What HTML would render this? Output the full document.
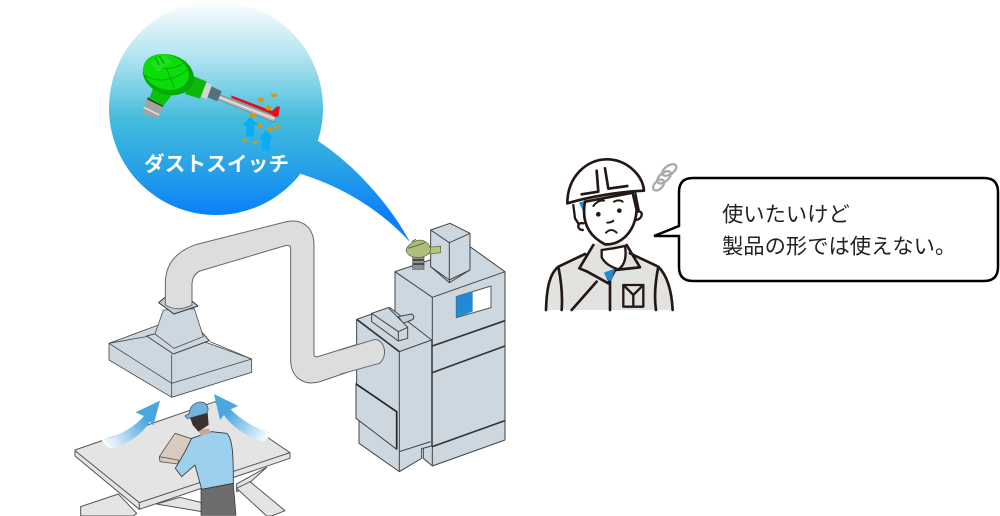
<!DOCTYPE html>
<html lang="ja"><head><meta charset="utf-8"><style>
html,body{margin:0;padding:0;background:#fff;width:1000px;height:516px;overflow:hidden}
svg{display:block}
text{font-family:"Liberation Sans","Noto Sans CJK JP",sans-serif}
</style></head><body>
<svg width="1000" height="516" viewBox="0 0 1000 516" xmlns="http://www.w3.org/2000/svg">
<defs>
<linearGradient id="b" gradientUnits="userSpaceOnUse" x1="0" y1="0" x2="0" y2="215">
<stop offset="0" stop-color="#fff"/><stop offset=".3" stop-color="#a5e0ee"/><stop offset=".55" stop-color="#45bcdc"/><stop offset=".8" stop-color="#259fe8"/><stop offset="1" stop-color="#0a80fc"/></linearGradient>
<linearGradient id="a1" gradientUnits="userSpaceOnUse" x1="100" y1="190" x2="240" y2="90"><stop offset="0" stop-color="#fff"/><stop offset=".85" stop-color="#4aa6de"/></linearGradient>
<linearGradient id="a2" gradientUnits="userSpaceOnUse" x1="600" y1="170" x2="460" y2="70"><stop offset="0" stop-color="#fff"/><stop offset=".85" stop-color="#4aa6de"/></linearGradient>
</defs>

<!-- bubble -->
<circle cx="216" cy="108" r="107" fill="url(#b)"/>
<path d="M318 141C355 165 390 205 410 242C380 210 345 188 301 174L290 150Z" fill="url(#b)"/>

<!-- sensor -->
<g transform="translate(100 0) scale(.3333)">
<path d="M358 284L528 350L522 366L352 298Z" fill="#b8bbb9" stroke="#777" stroke-width="2"/>
<path d="M356 291L525 357" stroke="#eee" stroke-width="3"/>
<path d="M394 286L516 333L530 320H540L535 350H522L514 342L394 294Z" fill="#f00a14"/>
<path d="M330 256L365 274L352 304L318 290Z" fill="#55707a"/>
<path d="M316 246L336 255L320 298L300 288Z" fill="#d4d6d4"/>
<path d="M275 226L320 245L300 296L255 282Z" fill="#0ab80a"/>
<path d="M140 298L190 318L176 352L150 350L126 338Z" fill="#a0a39e"/>
<path d="M143 295L190 318" stroke="#333" stroke-width="7"/>
<path d="M131 322L178 345" stroke="#ddd" stroke-width="5"/>
<path d="M160 262L218 282L190 318L148 296Z" fill="#0cc20c"/>
<ellipse cx="205" cy="224" rx="78" ry="60" fill="#06a806" transform="rotate(18 205 224)"/>
<ellipse cx="198" cy="216" rx="70" ry="52" fill="#0add0a" transform="rotate(18 198 216)"/>
<path d="M132 225C170 250 225 245 272 200M200 205L222 262M160 195C190 210 230 210 258 182" stroke="#08a008" stroke-width="2.5" fill="none"/>
<path d="M150 190L195 165L215 185L175 215Z" fill="#1ee01e"/>
<path d="M165 172L178 195M178 168L192 190" stroke="#08a008" stroke-width="4"/>
<g fill="#d29a0a">
<ellipse cx="483" cy="299" rx="9" ry="7"/><ellipse cx="522" cy="286" rx="9" ry="5"/><ellipse cx="505" cy="324" rx="8" ry="7"/><ellipse cx="458" cy="346" rx="9" ry="6"/><ellipse cx="478" cy="377" rx="8" ry="7"/><ellipse cx="510" cy="388" rx="9" ry="6"/><ellipse cx="531" cy="382" rx="9" ry="5"/><ellipse cx="435" cy="421" rx="9" ry="5"/><ellipse cx="466" cy="427" rx="7" ry="5"/></g>
<path d="M451 350L474 375H462V410H438V375H428Z" fill="#0aaef0"/>
<path d="M498 392L521 417H510V452H486V417H476Z" fill="#0aaef0"/>
</g>
<text x="144" y="171" font-size="20.5" font-weight="700" fill="#fff" textLength="145" lengthAdjust="spacing">ダストスイッチ</text>

<!-- duct + hood -->
<g transform="translate(100 210) scale(.3333)" stroke-linejoin="round">
<path d="M27 400L175 345L455 447V487L215 562L27 450Z" fill="#cdd7df" stroke="#4a4a4a" stroke-width="2.5"/>
<path d="M27 400L215 520L455 447M215 520V562M27 400L150 378M215 434V520M330 395L455 447" fill="none" stroke="#4a4a4a" stroke-width="2.5"/>
<path d="M140 378L220 432L328 392L300 360L170 370Z" fill="#cdd7df" stroke="#444" stroke-width="3"/>
<path d="M190 300L165 372L222 415L310 380L283 296Z" fill="#cdd7df" stroke="#555" stroke-width="2.5"/>
<path d="M176 278L222 312L294 288L270 268L195 262Z" fill="#c3ccd2" stroke="#333" stroke-width="3"/>
<path d="M196 285V220C196 165 225 125 290 103L560 35C610 25 642 55 642 105V432C642 442 650 442 660 438L820 388C845 385 860 425 845 452L660 515C610 530 572 500 572 450V115C572 105 562 105 552 108L300 183C285 190 276 205 276 225V285C250 300 220 300 196 285Z" fill="#dcdedd" stroke="#666" stroke-width="3"/>
</g>

<!-- machine -->
<g transform="translate(340 210) scale(.3333)" stroke="#444" stroke-width="3" stroke-linejoin="round" fill="#cdd7df">
<path d="M165 185L390 110L495 185V690L277 768L250 745V700H165Z"/>
<path d="M165 185L277 262L495 185M277 262V768" fill="none"/>
<path d="M277 408L495 332M277 488L495 408M277 710L495 632" fill="none" stroke="#333" stroke-width="5"/>
<path d="M349 260L453 228V293L349 323Z" fill="#fff" stroke="#555"/>
<path d="M349 260L398 245V305L349 323Z" fill="#2389d2" stroke="none"/>
<path d="M272 60L330 40L390 70V180L328 218L272 170Z"/>
<path d="M272 60L328 98L390 70M328 98V218M272 170L328 210L390 180" fill="none"/>
<path d="M50 328L150 293L275 390V708L245 716V745L178 785L57 700V630L48 622V522L50 515Z"/>
<path d="M178 425L275 390M178 425V785M178 725L272 695" fill="none"/>
<path d="M50 328L178 425" fill="none" stroke="#333" stroke-width="5"/>
<path d="M48 522L170 605V718L48 625Z" stroke="#444"/>
<path d="M48 522L170 605V718" fill="none" stroke="#222" stroke-width="5"/>
<path d="M175 320L215 312C225 318 222 328 215 330L190 340Z" fill="#c5ced5"/>
<path d="M95 310L145 293L203 352V385L175 393L95 335Z"/>
<path d="M95 310L175 365L203 352M175 365V393" fill="none"/>
<path d="M270 112L302 108V128L270 132Z" fill="#b8c47a" stroke="#5a6040" stroke-width="2"/>
<path d="M218 135H252V178H218Z" fill="#8c8f8a" stroke="#555" stroke-width="2"/>
<path d="M218 150H252M218 162H252" stroke="#444" stroke-width="5"/>
<path d="M198 122C200 105 230 85 250 92C272 100 278 125 262 135C240 147 205 145 198 122Z" fill="#aebf7a" stroke="#5a6040" stroke-width="2"/>
<path d="M205 115L255 98M215 95L228 88" stroke="#5a6040" stroke-width="3" fill="none"/>
<path d="M0 420L105 388C135 390 145 440 118 460L0 493Z" fill="#dcdedd" stroke="none"/>
<path d="M0 420L105 388C135 390 145 440 118 460L0 493" fill="none" stroke="#666"/>
</g>

<!-- worker at table -->
<g transform="translate(70 380) scale(.3333)" stroke-linejoin="round">
<g fill="#e4e4e4" stroke="#555" stroke-width="3">
<path d="M32 380L145 342L200 400L190 408H32Z"/>
<path d="M260 372L330 352L395 368V395Z"/>
<path d="M590 262L500 312V335L520 325Z"/>
<path d="M540 305L645 392L605 408H590L500 325Z"/>
</g>
<path d="M15 210L435 65L660 218V235L208 388L15 228Z" fill="#e4e4e4" stroke="#555" stroke-width="3"/>
<path d="M15 212L208 368L660 218M208 368V388" fill="none" stroke="#555" stroke-width="3"/>
<path d="M268 230L315 160L370 178L335 238L325 252L270 245Z" fill="#d9cabf" stroke="#555" stroke-width="2.5"/>
<path d="M268 230L325 240L325 252" fill="none" stroke="#555" stroke-width="2.5"/>
<path d="M393 325L490 310L498 406H393Z" fill="#6c6d6c" stroke="#333" stroke-width="2"/>
<path d="M365 175L425 155L470 160C490 175 490 240 490 310L395 328L375 255L335 290L316 265L345 215Z" fill="#9dd0ed" stroke="#333" stroke-width="2.5"/>
<path d="M385 150L418 145L420 158L392 168Z" fill="#c8a890"/>
<path d="M360 112L413 98L416 135L385 155L368 135Z" fill="#3a3230"/>
<path d="M345 108L358 100C358 78 378 65 395 66C415 70 418 90 410 100L352 116Z" fill="#6fb4dc" stroke="#444" stroke-width="2"/>
<path d="M270 62L196 97L222 108C190 145 140 170 95 180C105 195 115 205 125 205C170 195 215 165 240 125L250 137Z" fill="url(#a1)"/>
<path d="M432 42L505 78L482 88C515 120 560 150 610 160L580 185C530 170 485 140 462 105L450 120Z" fill="url(#a2)"/>
</g>

<!-- man -->
<g transform="translate(530 150) scale(.3333)" fill="none" stroke="#231815" stroke-linejoin="round" stroke-linecap="round">
<path d="M48 480C50 410 60 370 85 350L180 305L195 280H285L300 310L385 350C410 375 425 420 428 480Z" fill="#e2e2e0" stroke="none"/>
<path d="M48 480C50 410 60 370 85 350L165 312M300 310L385 350C410 375 425 420 428 480M85 350C95 400 98 440 95 480M385 350C375 400 372 440 378 480M240 395V480M200 395L125 480M172 365L235 400M235 400L255 360L330 352L290 285M190 285L148 355L172 365" stroke-width="8"/>
<path d="M280 405H340V470H280ZM280 405L310 435L340 405M310 435V470" stroke-width="7"/>
<path d="M222 368L255 355L245 392L232 392Z" fill="#2689c9" stroke="none"/>
<path d="M130 165L135 205L158 240M315 125L328 190" stroke="#231815" stroke-width="7"/>
<path d="M147 158L168 152L162 190ZM295 130L314 125L316 165Z" fill="#2689c9" stroke="none"/>
<path d="M160 220C140 215 140 240 158 240M322 185C340 180 340 205 320 210" stroke-width="7" fill="#fff"/>
<path d="M165 155C155 210 170 255 225 283C270 285 315 250 320 180L308 128Z" fill="#fff" stroke-width="8"/>
<path d="M112 160C112 80 170 28 230 28C290 28 338 75 342 122C270 125 180 140 112 160Z" fill="#fff" stroke-width="8"/>
<path d="M200 62L205 125L155 133M225 55L235 116L292 108" stroke-width="8"/>
<path d="M190 168C200 155 212 150 222 152M252 155C260 150 272 150 278 155" stroke-width="6"/>
<circle cx="205" cy="193" r="7" fill="#231815" stroke="none"/><circle cx="268" cy="182" r="7" fill="#231815" stroke="none"/>
<path d="M232 218C240 218 248 215 250 212M228 248C238 238 250 238 260 248" stroke-width="6"/>
<path d="M215 300L250 295L285 288C290 320 285 345 265 358C240 350 225 340 215 322Z" fill="#fff" stroke-width="7"/>
<g stroke="#aaa" stroke-width="7"><ellipse cx="418" cy="60" rx="24" ry="13" transform="rotate(-35 418 60)"/><ellipse cx="402" cy="82" rx="24" ry="13" transform="rotate(-40 402 82)"/><ellipse cx="386" cy="105" rx="20" ry="12" transform="rotate(-45 386 105)"/></g>
</g>

<!-- callout -->
<path d="M693 178H984Q998 178 998 192V267Q998 281 984 281H693Q679 281 679 267V236L654 236L679 226V192Q679 178 693 178Z" fill="#fff" stroke="#000" stroke-width="2.5"/>
<text x="722" y="221.5" font-size="21.3" fill="#222">使いたいけど</text>
<text x="722" y="253.5" font-size="21.3" fill="#222">製品の形では使えない。</text>
</svg>
</body></html>
